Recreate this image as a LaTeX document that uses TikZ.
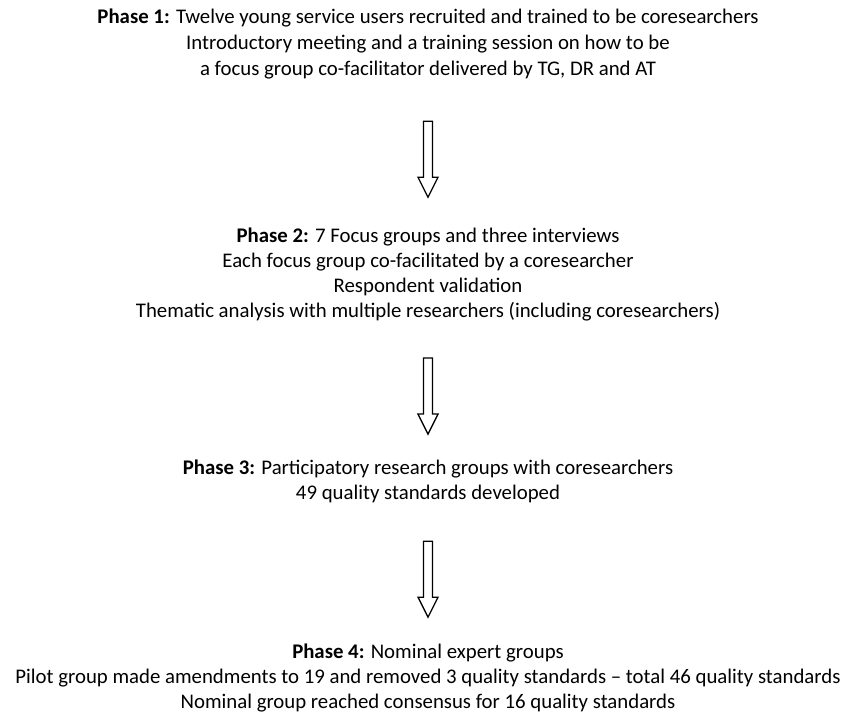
\documentclass[tikz,border=0pt]{standalone}
\usepackage{fontspec}
\setmainfont{Carlito}
\usetikzlibrary{calc,positioning}

% hollow block arrow between two phase nodes
\newcommand{\phasearrow}[2]{%
  \draw[blockarrow] let \p1=($(#1.south)!0.5!(#2.north)+(0,-6pt)$) in
    (\x1-4.5pt,\y1+38pt) -- (\x1+4.5pt,\y1+38pt) -- (\x1+4.5pt,\y1-18pt)
    -- (\x1+10pt,\y1-18pt) -- (\x1,\y1-38pt) -- (\x1-10pt,\y1-18pt)
    -- (\x1-4.5pt,\y1-18pt) -- cycle;}

\begin{document}
\begin{tikzpicture}[x=1pt,y=1pt,
  phase/.style={align=center,inner sep=0pt,font=\fontsize{20.8}{25}\selectfont},
  blockarrow/.style={draw=black,line width=1.3pt,fill=white,line join=miter}]
\useasboundingbox (0,0) rectangle (844,-712);
\node[phase,font=\fontsize{20.8}{26}\selectfont] (p1) at (428,-44) {\textbf{Phase 1:} Twelve young service users recruited and trained to be coresearchers\\
  Introductory meeting and a training session on how to be\\
  a focus group co-facilitator delivered by TG, DR and AT};
\node[phase] (p2) at (428,-274) {\textbf{Phase 2:} 7 Focus groups and three interviews\\
  Each focus group co-facilitated by a coresearcher\\
  Respondent validation\\
  Thematic analysis with multiple researchers (including coresearchers)};
\node[phase] (p3) at (428,-481) {\textbf{Phase 3:} Participatory research groups with coresearchers\\
  49 quality standards developed};
\node[phase] (p4) at (428,-678) {\textbf{Phase 4:} Nominal expert groups\\
  Pilot group made amendments to 19 and removed 3 quality standards -- total 46 quality standards\\
  Nominal group reached consensus for 16 quality standards};
\phasearrow{p1}{p2}
\phasearrow{p2}{p3}
\phasearrow{p3}{p4}
\end{tikzpicture}
\end{document}
